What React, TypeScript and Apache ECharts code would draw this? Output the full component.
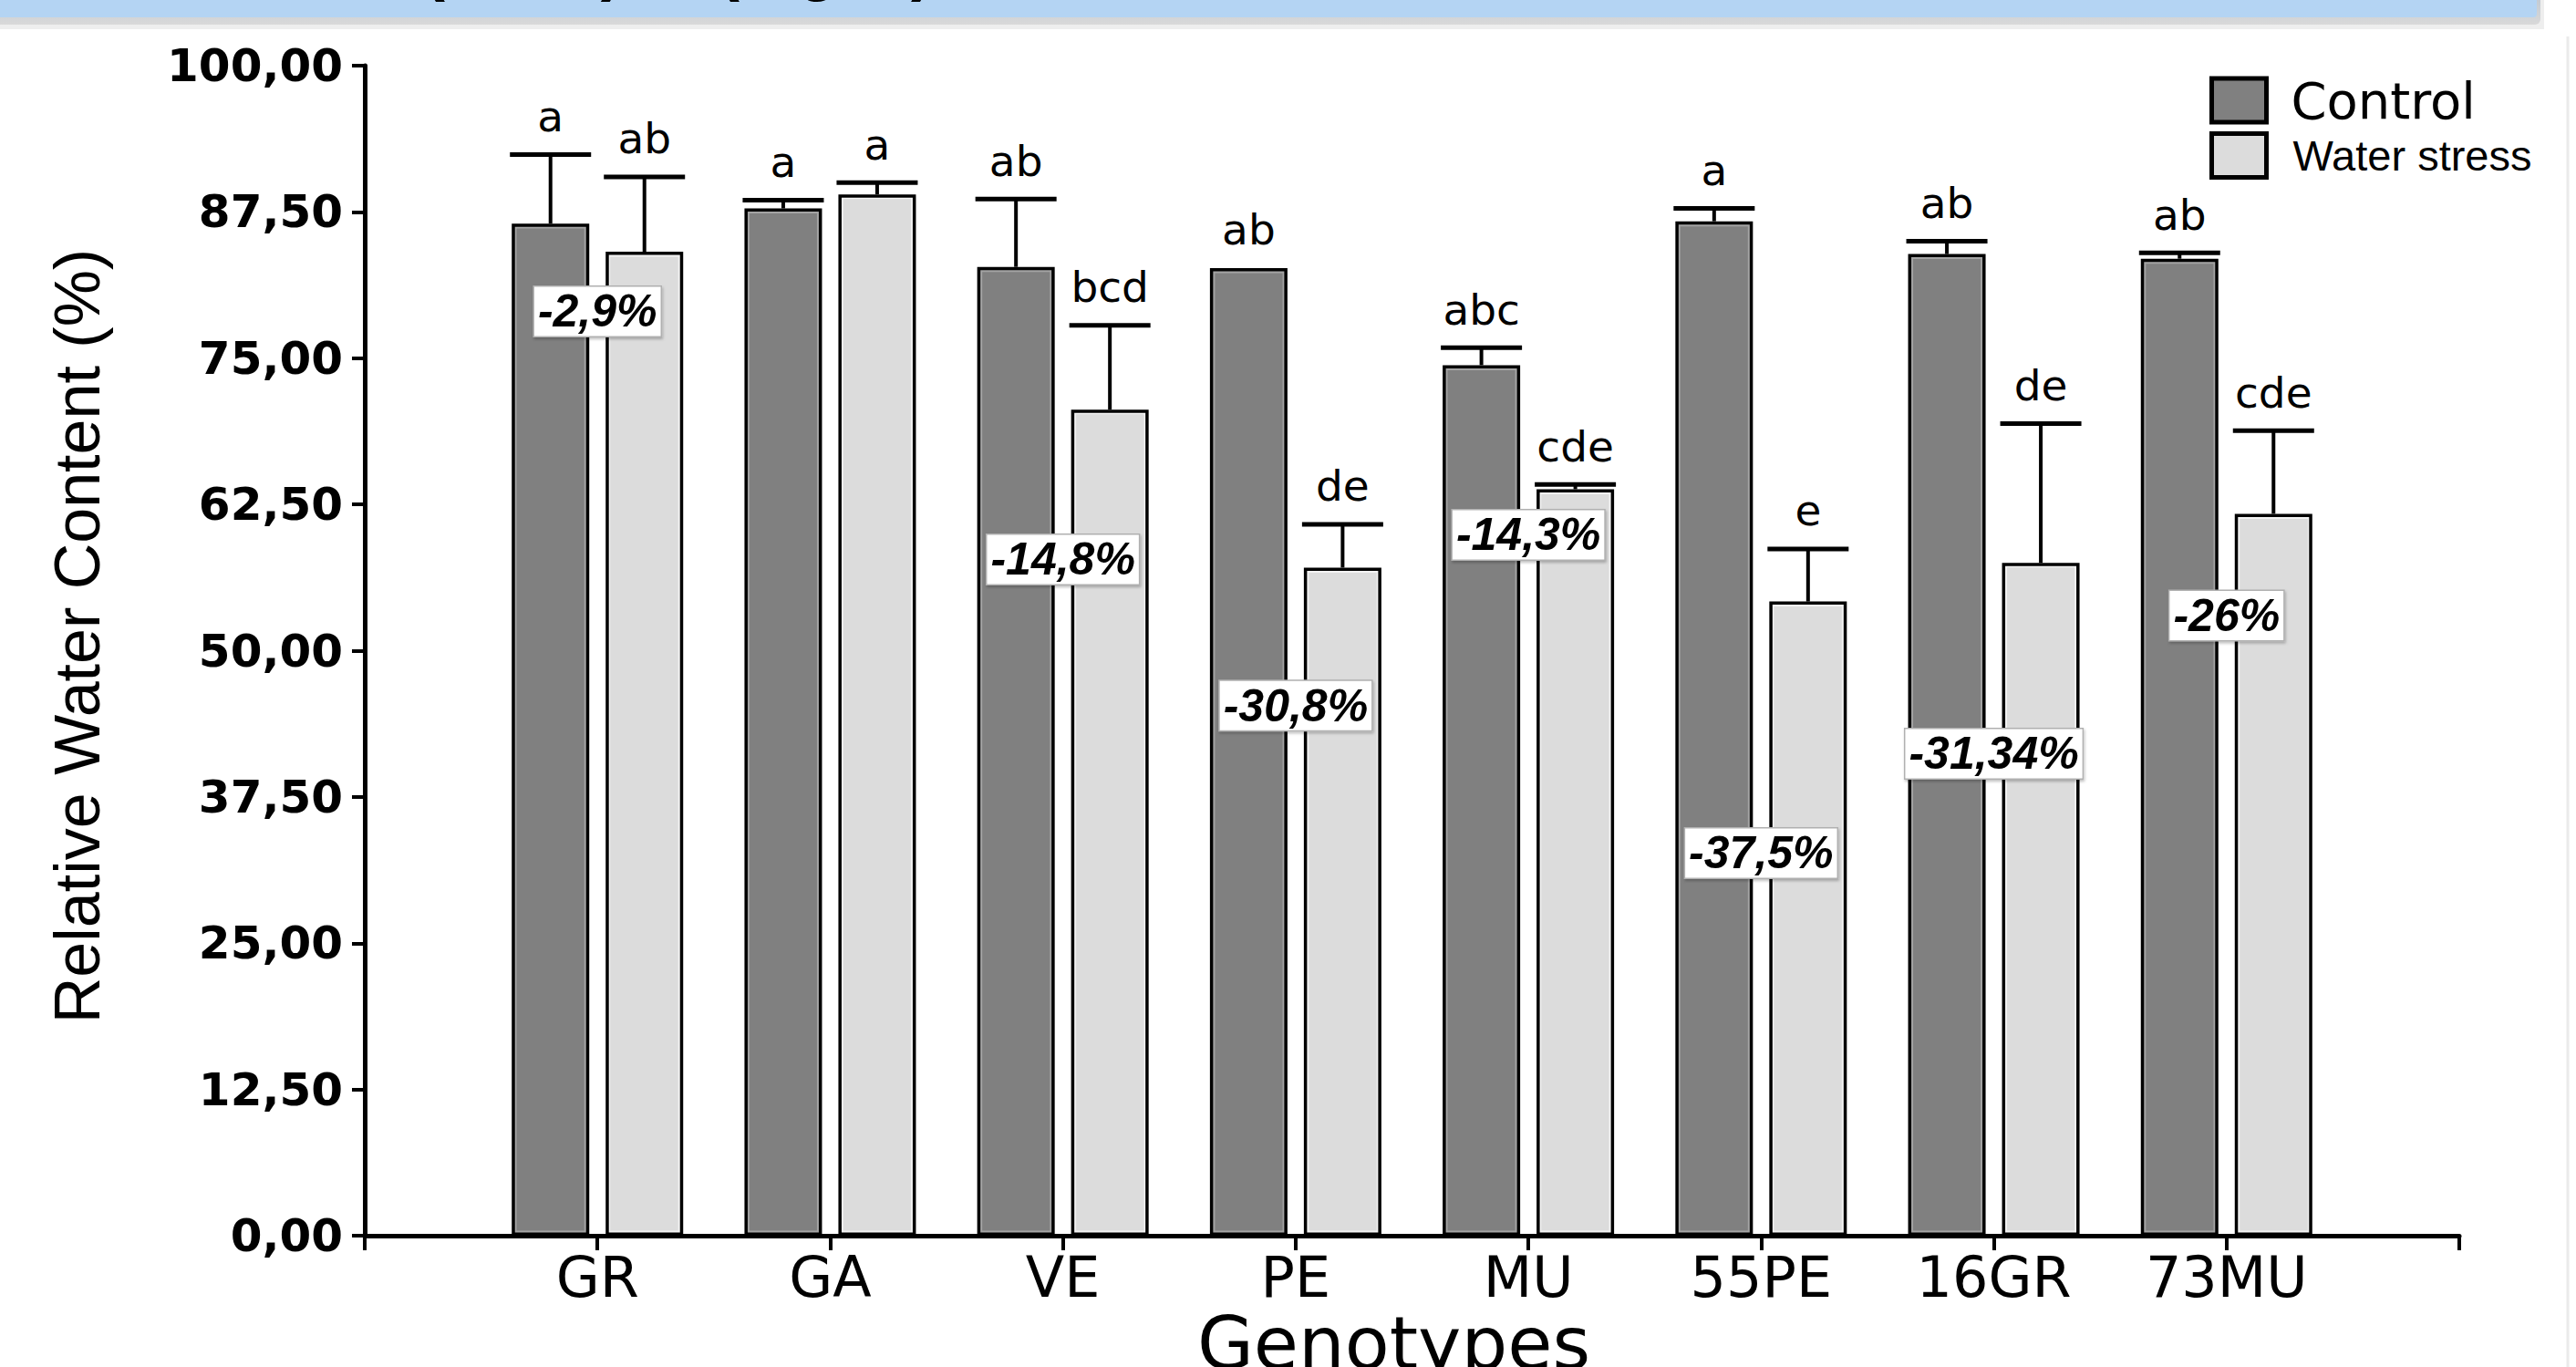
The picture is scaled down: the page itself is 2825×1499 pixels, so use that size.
import React, { useEffect, useRef } from 'react';
import * as echarts from 'echarts';

// ---------- data ----------
const genotypes = ['GR', 'GA', 'VE', 'PE', 'MU', '55PE', '16GR', '73MU'];
const xCategories = ['', ...genotypes, ''];
const control = [86.5, 87.8, 82.8, 82.7, 74.4, 86.7, 83.9, 83.5];
const waterStress = [84.1, 89.0, 70.6, 57.1, 63.8, 54.2, 57.5, 61.7];
const controlSE = [5.9, 0.7, 5.8, 0, 1.5, 1.1, 1.1, 0.5];
const waterStressSE = [6.4, 1.0, 7.2, 3.7, 0.4, 4.5, 11.9, 7.1];
const controlLetters = ['a', 'a', 'ab', 'ab', 'abc', 'a', 'ab', 'ab'];
const waterStressLetters = ['ab', 'a', 'bcd', 'de', 'cde', 'e', 'de', 'cde'];
const reductionText = ['-2,9%', '', '-14,8%', '-30,8%', '-14,3%', '-37,5%', '-31,34%', '-26%'];
const reductionLabelY = [79.0, 0, 57.8, 45.3, 59.9, 32.7, 41.2, 53.0];
const yMin = 0;
const yMax = 100;
const yInterval = 12.5;

// ---------- style constants ----------
const BAR_W = 85;
const BAR_GAP_PX = 18;
const OFFSET = (BAR_W + BAR_GAP_PX) / 2;
const CONTROL_FILL = '#808080';
const STRESS_FILL = '#dcdcdc';
const WIDE = '"DejaVu Sans", Verdana, sans-serif';
const ARIAL = '"Liberation Sans", Arial, sans-serif';

const pad = (a: (string | number)[]) => ['-', ...a, '-'];

export default function App() {
  const ref = useRef<HTMLDivElement>(null);
  useEffect(() => {
    document.body.style.margin = '0';
    const chart = echarts.init(ref.current!, null, { renderer: 'svg' });
    const customData = genotypes.map((g, i) => [
      i + 1,
      control[i],
      controlSE[i],
      waterStress[i],
      waterStressSE[i],
    ]);
    const option: any = {
      animation: false,
      backgroundColor: '#ffffff',
      grid: { left: 400, right: 128, top: 72, bottom: 144, containLabel: false, outerBoundsMode: 'none' },
      legend: {
        orient: 'vertical',
        left: 2418,
        top: 77,
        itemWidth: 60,
        itemHeight: 48,
        itemGap: 6,
        icon: 'rect',
        itemStyle: { borderColor: '#000', borderWidth: 5 },
        data: [
          {
            name: 'Control',
            textStyle: { fontFamily: WIDE, fontSize: 56, color: '#000', padding: [0, 0, 0, 22] },
          },
          {
            name: 'Water stress',
            textStyle: { fontFamily: ARIAL, fontSize: 47, color: '#000', padding: [0, 0, 0, 24] },
          },
        ],
      },
      xAxis: {
        type: 'category',
        data: xCategories,
        boundaryGap: false,
        name: 'Genotypes',
        nameLocation: 'middle',
        nameGap: 78,
        nameMoveOverlap: false,
        nameTextStyle: { fontFamily: WIDE, fontSize: 80, lineHeight: 80, color: '#000', padding: [0, 40, 0, 0] },
        axisLine: { lineStyle: { color: '#000', width: 5 } },
        axisTick: { show: true, length: 16, lineStyle: { color: '#000', width: 4 } },
        axisLabel: { color: '#000', fontFamily: WIDE, fontSize: 62, lineHeight: 62, margin: 14, interval: 0 },
        splitLine: { show: false },
      },
      yAxis: {
        type: 'value',
        min: yMin,
        max: yMax,
        interval: yInterval,
        name: 'Relative Water Content (%)',
        nameLocation: 'middle',
        nameRotate: 90,
        nameGap: 280,
        nameMoveOverlap: false,
        nameTextStyle: { fontFamily: ARIAL, fontSize: 70, color: '#000', padding: [0, 0, 0, 32] },
        axisLine: { show: true, lineStyle: { color: '#000', width: 5 } },
        axisTick: { show: true, length: 14, lineStyle: { color: '#000', width: 4 } },
        axisLabel: {
          color: '#000',
          fontFamily: WIDE,
          fontWeight: 'bold',
          fontSize: 50,
          margin: 24,
          formatter: (v: number) => v.toFixed(2).replace('.', ','),
        },
        splitLine: { show: false },
      },
      series: [
        {
          name: 'Control',
          type: 'bar',
          data: pad(control),
          barWidth: BAR_W,
          barGap: (BAR_GAP_PX / BAR_W) * 100 + '%',
          itemStyle: { color: CONTROL_FILL, borderColor: '#000', borderWidth: 5 },
        },
        {
          name: 'Water stress',
          type: 'bar',
          data: pad(waterStress),
          barWidth: BAR_W,
          barGap: (BAR_GAP_PX / BAR_W) * 100 + '%',
          itemStyle: { color: STRESS_FILL, borderColor: '#000', borderWidth: 5 },
        },
        {
          name: 'annotations',
          type: 'custom',
          data: customData,
          encode: { x: 0, y: 1 },
          clip: false,
          z: 5,
          renderItem: (params: any, api: any) => {
            const i = params.dataIndex;
            const idx = api.value(0);
            const base = api.coord([idx, 0]);
            const cx0 = base[0];
            const yBase = base[1];
            const children: any[] = [];
            const sides = [
              { off: -OFFSET, v: api.value(1), e: api.value(2), letter: controlLetters[i], inner: '#a4a4a4' },
              { off: OFFSET, v: api.value(3), e: api.value(4), letter: waterStressLetters[i], inner: '#f3f3f3' },
            ];
            sides.forEach((s) => {
              const cx = cx0 + s.off;
              const yTop = api.coord([idx, s.v])[1];
              const yErr = api.coord([idx, s.v + s.e])[1];
              children.push({
                type: 'rect',
                shape: { x: cx - BAR_W / 2 + 4.5, y: yTop + 4.5, width: BAR_W - 9, height: yBase - yTop - 9 },
                style: { fill: 'none', stroke: s.inner, lineWidth: 2 },
              });
              if (s.e > 0) {
                children.push({
                  type: 'line',
                  shape: { x1: cx, y1: yTop, x2: cx, y2: yErr },
                  style: { stroke: '#000', lineWidth: 4 },
                });
                children.push({
                  type: 'line',
                  shape: { x1: cx - BAR_W / 2 - 2, y1: yErr, x2: cx + BAR_W / 2 + 2, y2: yErr },
                  style: { stroke: '#000', lineWidth: 5 },
                });
              }
              children.push({
                type: 'text',
                x: cx,
                y: yErr - 42,
                style: {
                  text: s.letter,
                  fill: '#000',
                  font: '47px ' + WIDE,
                  align: 'center',
                  verticalAlign: 'middle',
                },
              });
            });
            if (reductionText[i]) {
              const py = api.coord([idx, reductionLabelY[i]])[1];
              children.push({
                type: 'text',
                x: cx0,
                y: py,
                style: {
                  text: reductionText[i],
                  fill: '#000',
                  font: 'italic bold 50px ' + ARIAL,
                  align: 'center',
                  verticalAlign: 'middle',
                  backgroundColor: '#ffffff',
                  borderColor: '#b0b0b0',
                  borderWidth: 1.5,
                  padding: [3, 4, 1, 4],
                  shadowColor: 'rgba(0,0,0,0.25)',
                  shadowBlur: 3,
                  shadowOffsetX: 1,
                  shadowOffsetY: 2,
                },
              });
            }
            return { type: 'group', children };
          },
        },
      ],
      graphic: [
        {
          type: 'rect',
          left: 0,
          top: 0,
          shape: { width: 2790, height: 32 },
          style: { fill: '#eeeeee' },
          z: 0,
        },
        {
          type: 'rect',
          left: 0,
          top: 0,
          shape: { width: 2786, height: 27, r: [0, 0, 6, 0] },
          style: {
            fill: new echarts.graphic.LinearGradient(0, 0, 0, 1, [
              { offset: 0, color: '#c4cbd3' },
              { offset: 1, color: '#d9d9d9' },
            ]),
          },
          z: 0,
        },
        {
          type: 'rect',
          left: 0,
          top: 0,
          shape: { width: 2782, height: 19, r: [0, 0, 4, 0] },
          style: { fill: '#b4d4f3' },
          z: 0,
        },
        {
          type: 'text',
          x: 464,
          y: -38,
          style: { text: '(RWC)', font: 'bold 72px ' + ARIAL, fill: '#000', align: 'left', verticalAlign: 'middle' },
          z: 1,
        },
        {
          type: 'text',
          x: 787,
          y: -38,
          style: { text: '(Fig. 6)', font: 'bold 72px ' + ARIAL, fill: '#000', align: 'left', verticalAlign: 'middle' },
          z: 1,
        },
        {
          type: 'line',
          shape: { x1: 2816, y1: 40, x2: 2816, y2: 1499 },
          style: { stroke: '#ebebeb', lineWidth: 3 },
          z: 0,
        },
      ],
    };
    chart.setOption(option);
    return () => chart.dispose();
  }, []);
  return (
    <div
      ref={ref}
      style={{ position: 'absolute', left: 0, top: 0, width: 2825, height: 1499, background: '#fff' }}
    />
  );
}
